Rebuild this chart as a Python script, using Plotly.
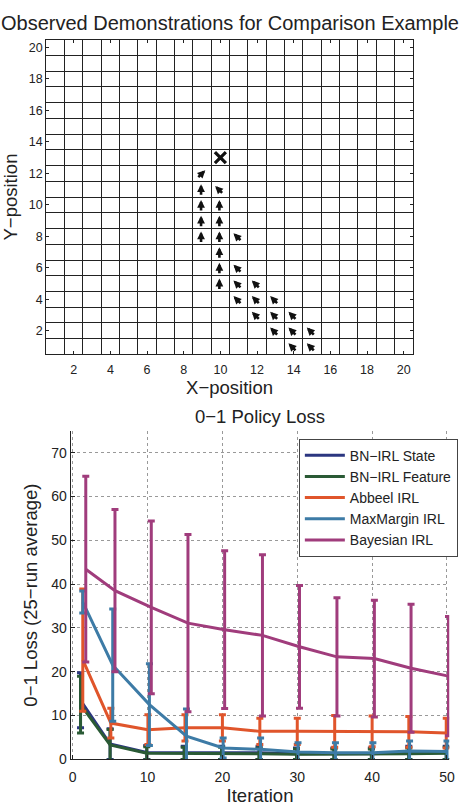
import plotly.graph_objects as go

FONT = "Liberation Sans, Arial, sans-serif"

# ---------------- Top chart data: demonstrations ----------------
goal_x = [10]
goal_y = [13]
arrow_x = [9, 9, 10, 9, 10, 9, 10, 9, 10, 11, 10, 10, 11, 10, 11, 12, 11, 12, 13, 12, 13, 14, 13, 14, 15, 14, 15]
arrow_y = [12, 11, 11, 10, 10, 9, 9, 8, 8, 8, 7, 6, 6, 5, 5, 5, 4, 4, 4, 3, 3, 3, 2, 2, 2, 1, 1]
arrow_dir = ["NE", "N", "NW", "N", "N", "N", "N", "N", "N", "NW", "N", "N", "NW", "N", "NW", "NW",
             "NW", "NW", "NW", "NW", "NW", "NW", "NW", "NW", "NW", "NW", "NW"]
grid_ticks = [2, 4, 6, 8, 10, 12, 14, 16, 18, 20]

# ---------------- Bottom chart data: 0-1 policy loss ----------------
series_names = ["BN−IRL State", "BN−IRL Feature", "Abbeel IRL", "MaxMargin IRL", "Bayesian IRL"]
series_colors = ["#2b3680", "#2a5a35", "#e0552b", "#3d7ba6", "#a03c7c"]

state_x = [1.05, 5.0, 9.9, 14.9, 19.9, 24.9, 29.9, 34.9, 39.9, 44.9, 49.9]
state_y = [13.5, 3.5, 1.6, 1.5, 1.5, 1.5, 1.3, 1.3, 1.3, 1.5, 1.5]
state_err = [6.3, 3.5, 1.6, 1.5, 1.5, 1.5, 1.3, 1.3, 1.3, 1.5, 1.5]

feature_x = [1.05, 5.0, 9.9, 14.9, 19.9, 24.9, 29.9, 34.9, 39.9, 44.9, 49.9]
feature_y = [12.5, 3.3, 1.4, 1.4, 1.4, 1.3, 1.2, 1.2, 1.2, 1.3, 1.4]
feature_err = [6.5, 3.5, 1.5, 1.4, 1.4, 1.3, 1.2, 1.2, 1.2, 1.3, 1.4]

abbeel_x = [1.35, 5.1, 10.05, 15.0, 20.0, 25.0, 30.0, 35.0, 40.0, 44.9, 49.9]
abbeel_y = [22.7, 8.3, 6.8, 7.2, 7.2, 6.4, 6.4, 6.4, 6.4, 6.3, 6.0]
abbeel_err_up = [16.2, 3.4, 3.4, 3.0, 3.0, 3.0, 3.0, 3.6, 3.5, 3.5, 3.4]
abbeel_err_down = [11.7, 3.4, 3.4, 3.0, 3.0, 3.0, 3.0, 3.6, 3.5, 3.5, 3.4]

maxm_x = [1.35, 5.35, 10.25, 15.2, 20.1, 25.1, 30.1, 35.1, 40.1, 45.0, 50.0]
maxm_y = [35.9, 21.5, 12.5, 5.3, 2.6, 2.3, 1.7, 1.5, 1.5, 1.9, 1.8]
maxm_err = [2.5, 12.8, 9.3, 6.2, 2.3, 2.6, 2.1, 2.3, 2.3, 2.3, 2.4]

bayes_x = [1.75, 5.65, 10.5, 15.4, 20.3, 25.35, 30.3, 35.3, 40.3, 45.2, 50.2]
bayes_y = [43.4, 38.5, 34.7, 31.1, 29.6, 28.3, 25.7, 23.4, 23.0, 20.8, 19.0]
bayes_err = [21.2, 18.5, 19.7, 20.2, 18.0, 18.4, 14.0, 13.5, 13.3, 14.6, 13.6]

loss_xticks = [0, 10, 20, 30, 40, 50]
loss_yticks = [0, 10, 20, 30, 40, 50, 60, 70]

# ---------------- Figure ----------------
W, H = 469, 810
fig = go.Figure()

# top: goal marker
fig.add_trace(go.Scatter(
    x=goal_x, y=goal_y, mode="markers", xaxis="x", yaxis="y", showlegend=False,
    marker=dict(symbol="x-thin-open", size=11, color="#111", line=dict(width=3.2, color="#111")),
    hoverinfo="skip"))

# top: demonstration arrows (annotations anchored on data cells)
dir_vec = {"N": (0.0, 1.0), "NW": (-0.7071, 0.7071), "NE": (0.7071, 0.7071)}
L = 12
annotations = []
for ax_, ay_, d in zip(arrow_x, arrow_y, arrow_dir):
    dx, dy = dir_vec[d]
    annotations.append(dict(
        x=ax_, y=ay_, xref="x", yref="y", text="", showarrow=True,
        xshift=dx * L / 2 - 1, yshift=dy * L / 2 - 1,
        ax=-dx * L, ay=dy * L, axref="pixel", ayref="pixel",
        arrowhead=2, arrowsize=0.6, arrowwidth=2.6, arrowcolor="#111"))

# bottom: loss series
def add_series(name, color, xs, ys, eu, ed=None):
    err = dict(type="data", array=eu, visible=True, color=color, thickness=3, width=3.5)
    if ed is not None:
        err["symmetric"] = False
        err["arrayminus"] = ed
    fig.add_trace(go.Scatter(
        x=xs, y=ys, name=name, mode="lines", xaxis="x2", yaxis="y2",
        line=dict(color=color, width=3), error_y=err))

add_series(series_names[0], series_colors[0], state_x, state_y, state_err)
add_series(series_names[1], series_colors[1], feature_x, feature_y, feature_err)
add_series(series_names[2], series_colors[2], abbeel_x, abbeel_y, abbeel_err_up, abbeel_err_down)
add_series(series_names[3], series_colors[3], maxm_x, maxm_y, maxm_err)
add_series(series_names[4], series_colors[4], bayes_x, bayes_y, bayes_err)

# titles / labels
annotations += [
    dict(text="Observed Demonstrations for Comparison Example", x=232 / W, y=1 - 23 / H,
         xref="paper", yref="paper", showarrow=False, font=dict(size=20, color="#222", family=FONT),
         xanchor="center", yanchor="middle"),
    dict(text="0−1 Policy Loss", x=262 / W, y=1 - 421 / H,
         xref="paper", yref="paper", showarrow=False, font=dict(size=18.5, color="#222", family=FONT),
         xanchor="center", yanchor="middle"),
]

fig.update_layout(
    width=W, height=H,
    margin=dict(l=0, r=0, t=0, b=0),
    paper_bgcolor="white", plot_bgcolor="white",
    font=dict(family=FONT, color="#222"),
    annotations=annotations,
    xaxis=dict(
        domain=[45 / W, 418 / W], anchor="y", range=[0.5, 20.5],
        tickvals=grid_ticks, ticks="inside", ticklen=3, tickcolor="#222",
        showline=True, linecolor="#222", linewidth=1.2, mirror="ticks",
        showgrid=False, zeroline=False,
        minor=dict(tick0=0.5, dtick=1, showgrid=True, gridcolor="#222", gridwidth=1.2, ticks=""),
        tickfont=dict(size=12.5, color="#222"), ticklabelstandoff=3,
        title=dict(text="X−position", font=dict(size=18.5, color="#222"), standoff=4),
    ),
    yaxis=dict(
        domain=[1 - 358 / H, 1 - 40 / H], anchor="x", range=[0.5, 20.5],
        tickvals=grid_ticks, ticks="inside", ticklen=3, tickcolor="#222",
        showline=True, linecolor="#222", linewidth=1.2, mirror="ticks",
        showgrid=False, zeroline=False,
        minor=dict(tick0=0.5, dtick=1, showgrid=True, gridcolor="#222", gridwidth=1.2, ticks=""),
        tickfont=dict(size=12.5, color="#222"),
        title=dict(text="Y−position", font=dict(size=18.5, color="#222"), standoff=6),
    ),
    xaxis2=dict(
        domain=[70 / W, 455 / W], anchor="y2", range=[-0.25, 50.3],
        tickvals=loss_xticks, ticks="inside", ticklen=4, tickcolor="#222",
        showline=True, linecolor="#222", linewidth=1.2,
        showgrid=True, gridcolor="#999", griddash="dot", gridwidth=1, zeroline=False,
        tickfont=dict(size=14, color="#222"), ticklabelstandoff=5,
        title=dict(text="Iteration", font=dict(size=18.5, color="#222"), standoff=2),
    ),
    yaxis2=dict(
        domain=[1 - 767 / H, 1 - 435 / H], anchor="x2", range=[0, 75],
        tickvals=loss_yticks, ticks="inside", ticklen=4, tickcolor="#222",
        showline=True, linecolor="#222", linewidth=1.2,
        showgrid=True, gridcolor="#999", griddash="dot", gridwidth=1, zeroline=False,
        tickfont=dict(size=14, color="#222"),
        title=dict(text="0−1 Loss (25−run average)", font=dict(size=18.5, color="#222"), standoff=8),
    ),
    legend=dict(
        x=302 / W, y=1 - 443 / H, xanchor="left", yanchor="top",
        bgcolor="white", bordercolor="#444", borderwidth=1,
        font=dict(size=14, color="#222", family=FONT),
        tracegroupgap=0, itemwidth=40,
    ),
)

fig.write_html("out.html")
